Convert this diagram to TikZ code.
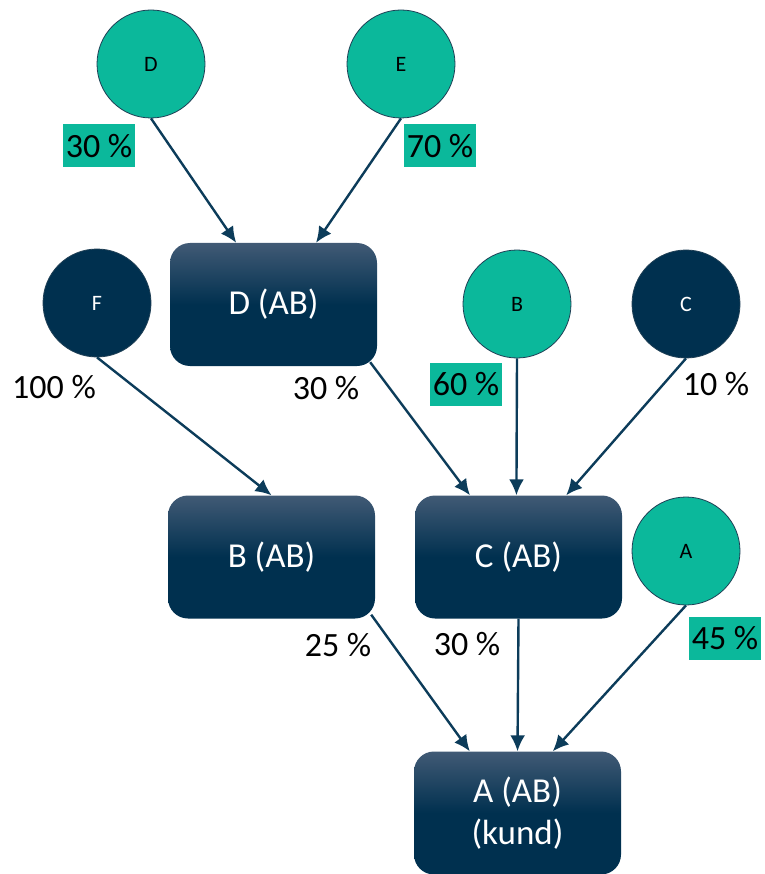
\documentclass[tikz,border=0pt]{standalone}
\usepackage{fontspec}
\setmainfont{Carlito}
\usetikzlibrary{arrows.meta,calc}
\definecolor{teal1}{HTML}{0BB89B}
\definecolor{navy1}{HTML}{00304F}
\definecolor{navytop}{HTML}{415A75}
\definecolor{arrowc}{HTML}{0C3C5A}
\definecolor{rimc}{HTML}{1F3F55}
\begin{document}
\begin{tikzpicture}[x=1pt,y=-1pt,
  tealcirc/.style={circle,draw=rimc,line width=0.8pt,fill=teal1,minimum size=108pt,inner sep=0pt,text=black,font=\fontsize{22}{26}\selectfont},
  navycirc/.style={circle,draw=rimc,line width=0.8pt,fill=navy1,minimum size=108pt,inner sep=0pt,text=white,font=\fontsize{22}{26}\selectfont},
  abbox/.style={rounded corners=20pt,minimum width=207pt,minimum height=123pt,inner sep=0pt,top color=navytop,bottom color=navy1,middle color=navy1,text=white,align=center,font=\fontsize{35}{42}\selectfont},
  pct/.style={inner sep=3pt,text=black,font=\fontsize{34}{38}\selectfont},
  pctbg/.style={pct,fill=teal1,minimum width=72pt,minimum height=43pt,inner sep=0pt},
  conn/.style={draw=arrowc,line width=2.4pt,-{Latex[length=16pt,width=15pt]}}]
\useasboundingbox (0,0) rectangle (764,874);
% circles
\node[tealcirc] (cD) at (151,64) {D};
\node[tealcirc] (cE) at (401,64) {E};
\node[navycirc] (cF) at (97,303) {F};
\node[tealcirc] (cB) at (517,304) {B};
\node[navycirc] (cC) at (686,304) {C};
\node[tealcirc] (cA) at (686,551) {A};
% boxes
\node[abbox] (bD) at (273.5,304.5) {D (AB)};
\node[abbox] (bB) at (271.5,557) {B (AB)};
\node[abbox] (bC) at (518.5,557) {C (AB)};
\node[abbox] (bA) at (517.5,813) {A (AB)\\(kund)};
% connectors
\draw[conn] (cD.south) -- ($(bD.north west)!0.32!(bD.north east)$);
\draw[conn] (cE.south) -- ($(bD.north west)!0.705!(bD.north east)$);
\draw[conn] (cF.south) -- (bB.north);
\draw[conn] ($(bD.south east)+(-7,-4)$) -- ($(bC.north west)!0.266!(bC.north east)$);
\draw[conn] (cB.south) -- ($(bC.north west)!0.49!(bC.north east)$);
\draw[conn] (cC.south) -- ($(bC.north west)!0.73!(bC.north east)$);
\draw[conn] ($(bB.south east)+(-4,-4)$) -- ($(bA.north west)!0.27!(bA.north east)$);
\draw[conn] (bC.south) -- ($(bA.north west)!0.5!(bA.north east)$);
\draw[conn] (cA.south) -- ($(bA.north west)!0.67!(bA.north east)$);
% labels
\node[pctbg] (l1) at (99,146) {30 \%};
\node[pctbg] (l2) at (440,146) {70 \%};
\node[pct] (l3) at (54,387) {100 \%};
\node[pct] (l4) at (326,388) {30 \%};
\node[pctbg] (l5) at (466,384) {60 \%};
\node[pct] (l6) at (716,384) {10 \%};
\node[pct] (l7) at (338,645) {25 \%};
\node[pct] (l8) at (467,644) {30 \%};
\node[pctbg] (l9) at (725,638) {45 \%};
\end{tikzpicture}
\end{document}
